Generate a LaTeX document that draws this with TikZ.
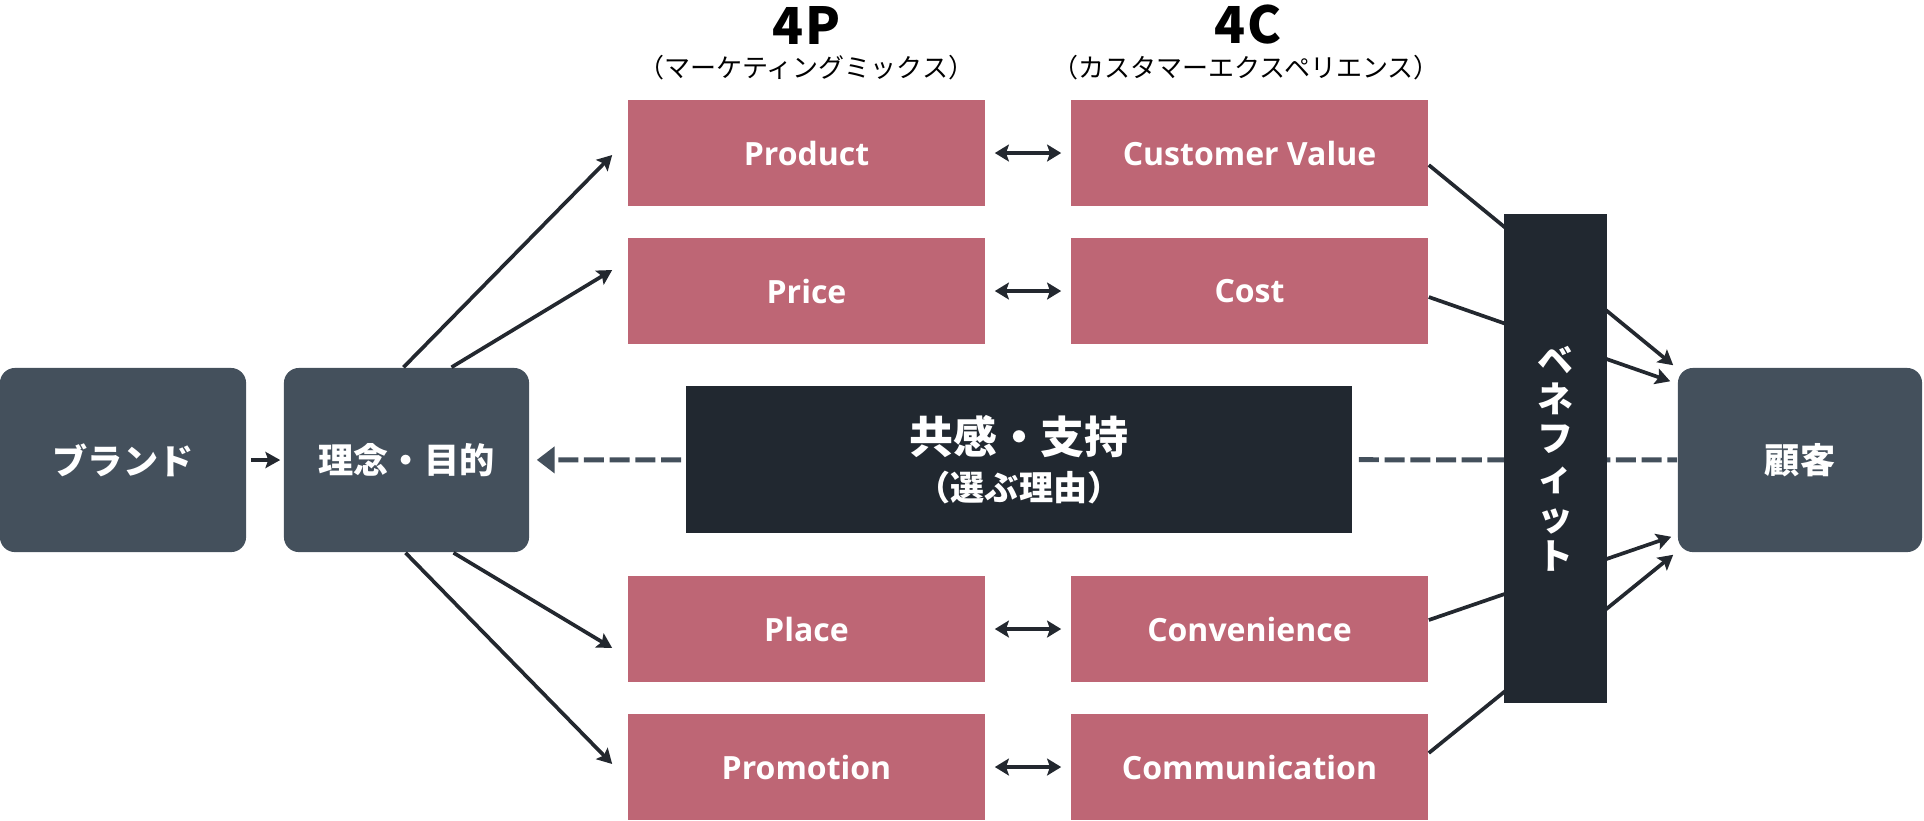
\documentclass[tikz,border=0pt]{standalone}
\usepackage{fontspec}
\setmainfont{Open Sans}
\newfontfamily\jp{Noto Sans CJK JP}
\newfontfamily\lat{Open Sans}
\usetikzlibrary{arrows.meta,calc}
\definecolor{pinkbox}{HTML}{BE6675}
\definecolor{slatebox}{HTML}{44505C}
\definecolor{darkbox}{HTML}{212830}
\definecolor{linec}{HTML}{23282F}
\begin{document}
\begin{tikzpicture}[x=0.01cm,y=-0.01cm,
  rbox/.style={fill=slatebox, rounded corners=0.15cm, minimum width=2.45cm, minimum height=1.84cm, inner sep=0pt, text=white, font=\jp\bfseries\fontsize{10}{12}\selectfont},
  pbox/.style={fill=pinkbox, minimum width=3.57cm, minimum height=1.06cm, inner sep=0pt, text=white, font=\lat\bfseries\fontsize{9.1}{11}\selectfont},
  arr/.style={draw=linec, line width=1.05pt, -{Stealth[length=4.2pt,width=4.6pt,inset=0.8pt]}},
  dbl/.style={draw=linec, line width=1.05pt, {Stealth[length=4pt,width=4.8pt,inset=0.8pt]}-{Stealth[length=4pt,width=4.8pt,inset=0.8pt]}, shorten <=0.09cm, shorten >=0.09cm},
  dashln/.style={draw=slatebox, line width=1.42pt, dash pattern=on 5.69pt off 1.62pt},
  head/.style={inner sep=0pt, font=\jp\bfseries\fontsize{14.5}{16}\selectfont},
  subhead/.style={inner sep=0pt, font=\jp\fontsize{7.4}{9}\selectfont}
]
\useasboundingbox (0,0) rectangle (1924,820);

% headings
\node[head] (h4p) at (806.5,25) {4\kern0.8pt P};
\node[head] (h4c) at (1248,25) {4\kern0.8pt C};
\node[subhead] (s4p) at (806.5,68) {（マーケティングミックス）};
\node[subhead] (s4c) at (1246,68) {（カスタマーエクスペリエンス）};

% rounded boxes
\node[rbox, minimum width=2.46cm] (brand) at (123,460) {ブランド};
\node[rbox] (rinen) at (406.5,460) {理念・目的};
\node[rbox, minimum width=2.44cm] (kok) at (1800,460) {顧客};

% 4P boxes
\node[pbox] (prod)  at (806.5,153) {Product};
\node[pbox] (price) at (806.5,291) {Price};
\node[pbox] (place) at (806.5,629) {Place};
\node[pbox] (promo) at (806.5,767) {Promotion};
% 4C boxes
\node[pbox] (cv)   at (1249.5,153) {Customer Value};
\node[pbox] (cost) at (1249.5,291) {Cost};
\node[pbox] (conv) at (1249.5,629) {Convenience};
\node[pbox] (comm) at (1249.5,767) {Communication};

% center box
\node[fill=darkbox, minimum width=6.66cm, minimum height=1.47cm, inner sep=0pt, text=white, align=center,
      font=\jp\bfseries\fontsize{12.5}{13.4}\selectfont] (dark) at (1019,459.5)
      {共感・支持\\{\fontsize{9.7}{13.4}\selectfont （選ぶ理由）}};

% double arrows
\draw[dbl] (prod) -- (cv);
\draw[dbl] (price) -- (cost);
\draw[dbl] (place) -- (conv);
\draw[dbl] (promo) -- (comm);

% brand -> rinen
\draw[arr, shorten <=0.04cm, shorten >=0.03cm] (brand) -- (rinen);

% rinen -> 4P
\draw[arr] ($(rinen.north)+(-3,0)$) -- ($(prod.west)+(-15,2)$);
\draw[arr] ($(rinen.north)+(45,0)$) -- ($(price.west)+(-15,-21)$);
\draw[arr] ($(rinen.south)+(47,0)$) -- ($(place.west)+(-15,19)$);
\draw[arr] ($(rinen.south)+(-1,0)$) -- ($(promo.west)+(-15,-3)$);

% 4C -> customer
\draw[arr] ($(cv.east)+(0,12)$) -- ($(kok.north west)+(-4,-2)$);
\draw[arr] ($(cost.east)+(0,6)$) -- ($(kok.north west)+(-7,14)$);
\draw[arr] ($(conv.east)+(0,-9)$) -- ($(kok.south west)+(-6,-16)$);
\draw[arr] ($(comm.east)+(0,-14)$) -- ($(kok.south west)+(-4,2)$);

% dashed lines
\draw[dashln, -{Triangle[length=5.1pt,width=7.4pt]}, shorten <=0.04cm, shorten >=0.07cm] (dark) -- (rinen);
\draw[dashln, shorten <=0.06cm] (dark) -- (kok);

% benefit bar
\node[fill=darkbox, minimum width=1.03cm, minimum height=4.89cm, inner sep=0pt, text=white, align=center,
      font=\jp\bfseries\fontsize{10.2}{11.15}\selectfont] (ben) at (1555.5,458.5)
      {ベ\\ネ\\フ\\ィ\\ッ\\ト};
\end{tikzpicture}
\end{document}
